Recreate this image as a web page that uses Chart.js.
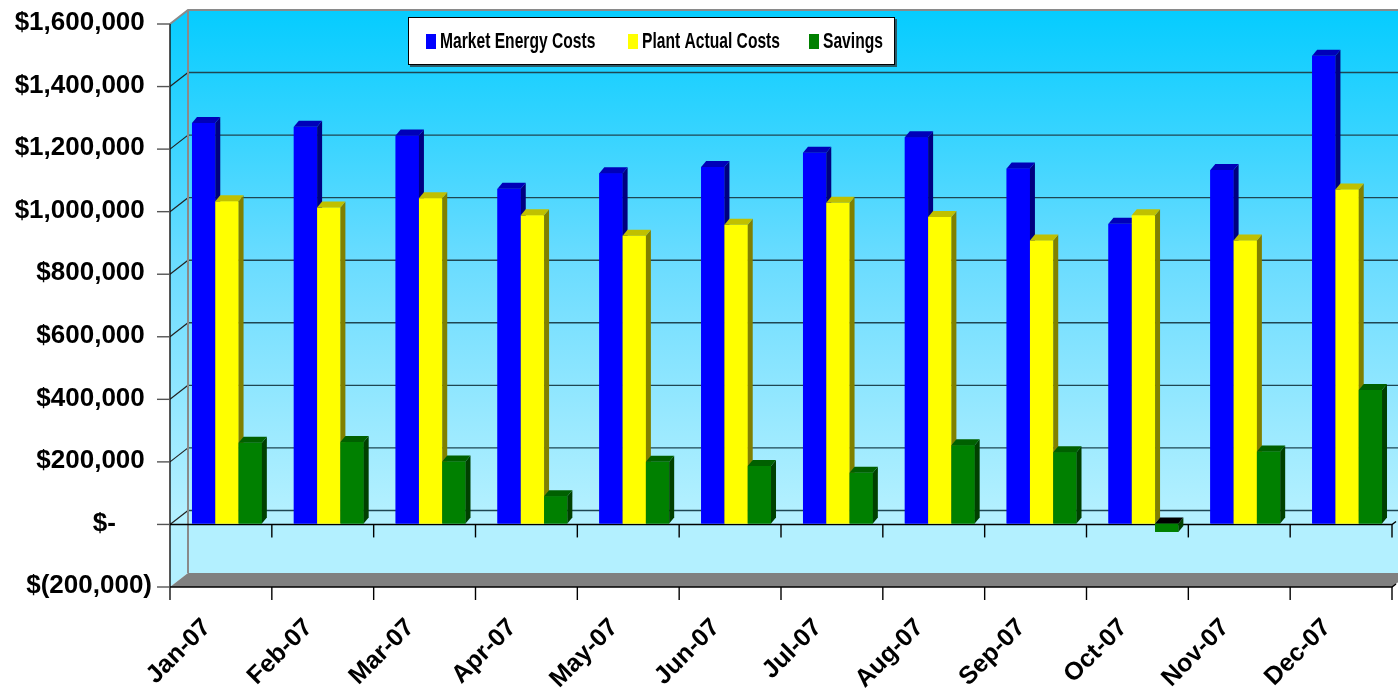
<!DOCTYPE html>
<html><head><meta charset="utf-8">
<script src="https://cdn.jsdelivr.net/npm/chart.js@4.4.0/dist/chart.umd.min.js"></script>
<style>html,body{margin:0;padding:0;background:#fff}#wrap{width:1398px;height:692px}</style>
</head><body><div id="wrap"><canvas id="c" width="1398" height="692"></canvas></div>
<script>
const categories = ['Jan-07','Feb-07','Mar-07','Apr-07','May-07','Jun-07','Jul-07','Aug-07','Sep-07','Oct-07','Nov-07','Dec-07'];
const seriesNames = ['Market Energy Costs','Plant Actual Costs','Savings'];
const marketEnergyCosts = [1280000,1268000,1240000,1070000,1120000,1140000,1185000,1235000,1135000,958000,1130000,1495000];
const plantActualCosts  = [1030000,1010000,1040000, 985000, 920000, 955000,1025000, 980000, 905000,985000, 905000,1068000];
const savings           = [ 258000, 260000, 198000,  87000, 197000, 184000, 162000, 250000, 228000,-27000, 230000, 427000];
const yMin = -200000, yMax = 1600000, yStep = 200000;

const frontColors = ['#0000FF','#FFFF00','#008000'];
const sideColors  = ['#000080','#808000','#004000'];
const topColors   = ['#0000B8','#C0C000','#006000'];

function fmtMoney(v){
  if (v === 0) return '$-     ';
  if (v < 0) return '$(' + Math.abs(v).toLocaleString('en-US') + ')';
  return '$' + v.toLocaleString('en-US') + ' ';
}

const WALL = {dx:18, dy:-14};
const BAR = {dx:5, dy:-6};
const FX = -6;

const threeD = {
  id:'threeD',
  beforeDraw(chart){
    const {ctx, chartArea:a, scales:{x,y}} = chart;
    const W = chart.width;
    const yf = v => y.getPixelForValue(v) + 1;
    const yb = v => yf(v) + WALL.dy;
    const catW = (a.right - a.left) / categories.length;
    const fl = a.left + FX;
    const fr = fl + catW * categories.length;
    const bl = fl + WALL.dx;
    ctx.save();
    const g = ctx.createLinearGradient(0, yb(yMax), 0, yb(0));
    g.addColorStop(0, '#05CCFF');
    g.addColorStop(0.5, '#6ADCFF');
    g.addColorStop(1, '#B3F0FF');
    ctx.fillStyle = g;
    ctx.fillRect(bl, yb(yMax), W - bl, yb(yMin) - yb(yMax));
    ctx.beginPath();
    ctx.moveTo(fl, yf(yMax)); ctx.lineTo(bl, yb(yMax)); ctx.lineTo(bl, yb(yMin)); ctx.lineTo(fl, yf(yMin)); ctx.closePath();
    ctx.fill();
    ctx.fillStyle = '#808080';
    ctx.beginPath();
    ctx.moveTo(fl, yf(yMin)); ctx.lineTo(fr, yf(yMin)); ctx.lineTo(fr + WALL.dx, yb(yMin)); ctx.lineTo(bl, yb(yMin)); ctx.closePath();
    ctx.fill();
    for (let v = 0; v < yMax; v += yStep) {
      ctx.strokeStyle = '#1E4652'; ctx.lineWidth = 1.4;
      ctx.beginPath(); ctx.moveTo(bl, yb(v)); ctx.lineTo(W, yb(v)); ctx.stroke();
      ctx.strokeStyle = '#222'; ctx.lineWidth = 1.2;
      ctx.beginPath(); ctx.moveTo(fl, yf(v)); ctx.lineTo(bl, yb(v)); ctx.stroke();
    }
    ctx.strokeStyle = '#8A8A8A'; ctx.lineWidth = 2;
    ctx.beginPath(); ctx.moveTo(fl, yf(yMax)); ctx.lineTo(bl, yb(yMax)); ctx.lineTo(W, yb(yMax)); ctx.stroke();
    ctx.beginPath(); ctx.moveTo(bl, yb(yMax)); ctx.lineTo(bl, yb(yMin)); ctx.stroke();
    ctx.strokeStyle = '#111'; ctx.lineWidth = 1.4;
    ctx.beginPath(); ctx.moveTo(fl, yf(yMax)); ctx.lineTo(fl, yf(yMin) + 13); ctx.stroke();
    ctx.strokeStyle = '#555';
    for (let v = yMin; v <= yMax; v += yStep) {
      ctx.beginPath(); ctx.moveTo(fl - 13, yf(v)); ctx.lineTo(fl, yf(v)); ctx.stroke();
    }
    ctx.strokeStyle = '#000'; ctx.lineWidth = 1.4;
    [yf(0), yf(yMin)].forEach(yy => {
      ctx.beginPath(); ctx.moveTo(fl, yy); ctx.lineTo(fr, yy); ctx.lineTo(fr + 4, yy - 3); ctx.stroke();
      for (let i = 1; i <= categories.length; i++) {
        const xx = fl + catW * i;
        ctx.beginPath(); ctx.moveTo(xx, yy); ctx.lineTo(xx, yy + 13); ctx.stroke();
      }
    });
    ctx.restore();
  },
  afterDatasetsDraw(chart){
    const {ctx} = chart;
    const metas = chart.data.datasets.map((d, i) => chart.getDatasetMeta(i));
    ctx.save();
    for (let i = 0; i < categories.length; i++) {
      metas.forEach((meta, d) => {
        const el = meta.data[i];
        const p = el.getProps(['x','y','base','width'], true);
        const l = p.x - p.width/2, r = p.x + p.width/2;
        const t = Math.min(p.y, p.base), b = Math.max(p.y, p.base);
        ctx.fillStyle = frontColors[d];
        ctx.fillRect(l, t, p.width, b - t);
        ctx.fillStyle = sideColors[d];
        ctx.beginPath(); ctx.moveTo(r, t); ctx.lineTo(r + BAR.dx, t + BAR.dy); ctx.lineTo(r + BAR.dx, b + BAR.dy); ctx.lineTo(r, b); ctx.closePath(); ctx.fill();
        ctx.fillStyle = p.y > p.base ? '#000' : topColors[d];
        ctx.beginPath(); ctx.moveTo(l, t); ctx.lineTo(l + BAR.dx, t + BAR.dy); ctx.lineTo(r + BAR.dx, t + BAR.dy); ctx.lineTo(r, t); ctx.closePath(); ctx.fill();
      });
    }
    ctx.restore();
  },
  afterDraw(chart){
    const {ctx} = chart;
    ctx.save();
    ctx.fillStyle = '#2A5A68';
    ctx.fillRect(410, 19, 487, 48);
    ctx.fillStyle = '#fff';
    ctx.fillRect(408, 17, 487, 48);
    ctx.strokeStyle = '#000'; ctx.lineWidth = 1;
    ctx.strokeRect(408.5, 17.5, 486, 47);
    const sx = [426, 628, 809];
    chart.data.datasets.forEach((ds, d) => {
      ctx.fillStyle = frontColors[d];
      ctx.fillRect(sx[d], 34, 10, 15);
      ctx.save();
      ctx.translate(sx[d] + 14, 48);
      ctx.scale(0.71, 1);
      ctx.fillStyle = '#000';
      ctx.font = 'bold 22px "Liberation Sans", Arial, sans-serif';
      ctx.textBaseline = 'alphabetic';
      ctx.fillText(ds.label, 0, 0);
      ctx.restore();
    });
    ctx.restore();
  }
};

new Chart(document.getElementById('c').getContext('2d'), {
  type:'bar',
  data:{
    labels: categories,
    datasets:[
      {label: seriesNames[0], data: marketEnergyCosts, backgroundColor: frontColors[0]},
      {label: seriesNames[1], data: plantActualCosts, backgroundColor: frontColors[1]},
      {label: seriesNames[2], data: savings, backgroundColor: frontColors[2]}
    ]
  },
  options:{
    responsive:false, animation:false, devicePixelRatio:1,
    layout:{padding:{top:23, right:0, left:0, bottom:0}},
    datasets:{bar:{categoryPercentage:0.686, barPercentage:1.0, borderWidth:0}},
    plugins:{legend:{display:false}, tooltip:{enabled:false}},
    scales:{
      x:{
        grid:{display:false, drawTicks:false}, border:{display:false},
        ticks:{minRotation:45, maxRotation:45, autoSkip:false, labelOffset:-20, padding:27,
          color:'#000', font:{family:'"Liberation Sans", Arial, sans-serif', weight:'bold', size:25}},
        afterFit(s){ s.height = 106; s.paddingLeft = 0; s.paddingRight = 0; }
      },
      y:{
        min:yMin, max:yMax,
        grid:{display:false, drawTicks:false}, border:{display:false},
        ticks:{stepSize:yStep, padding:24, color:'#000',
          font:{family:'"Liberation Sans", Arial, sans-serif', weight:'bold', size:26},
          callback: v => fmtMoney(v)},
        afterFit(s){ s.width = 176; s.paddingTop = 0; s.paddingBottom = 0; }
      }
    }
  },
  plugins:[threeD]
});
</script></body></html>
